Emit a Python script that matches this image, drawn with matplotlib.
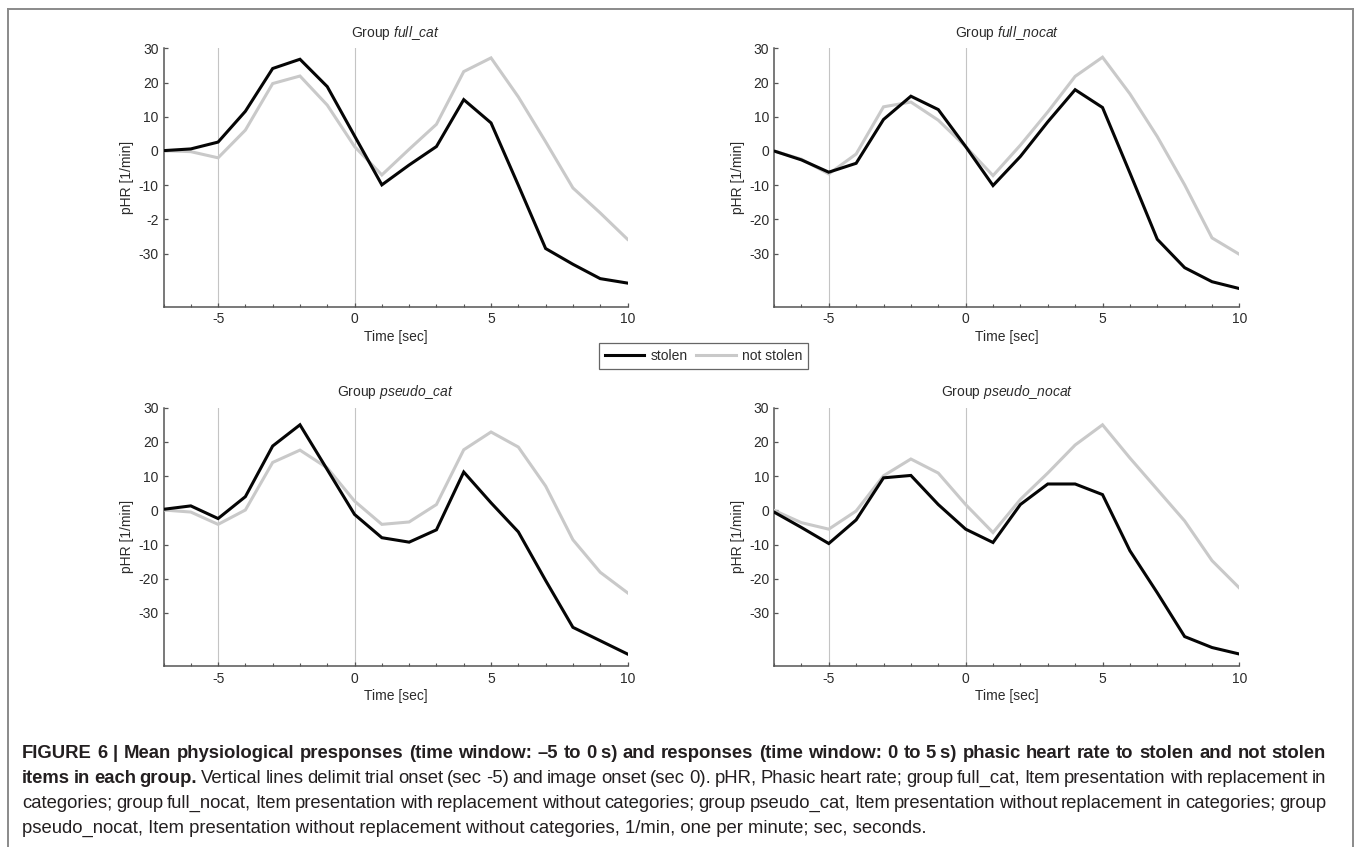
import numpy as np
import matplotlib
matplotlib.use("Agg")
import matplotlib.pyplot as plt
from matplotlib.lines import Line2D
from matplotlib.ticker import MultipleLocator, FixedLocator

plt.rcParams['font.family'] = ['Liberation Sans', 'DejaVu Sans']
plt.rcParams['mathtext.fontset'] = 'custom'
plt.rcParams['mathtext.rm'] = 'Liberation Sans'
plt.rcParams['mathtext.it'] = 'Liberation Sans:italic'

# ---------------- data ----------------
time_sec = [-7, -6, -5, -4, -3, -2, -1, 0, 1, 2, 3, 4, 5, 6, 7, 8, 9, 10]

full_cat_stolen = [0.1, 0.6, 2.6, 11.6, 24.1, 26.8, 18.8, 4.4, -9.9, -4.1, 1.3, 15.0, 8.2, -10.0, -28.5, -33.1, -37.3, -38.6]
full_cat_not = [0.1, -0.2, -2.0, 6.1, 19.7, 21.9, 13.4, 1.3, -7.0, 0.5, 7.8, 23.2, 27.2, 15.8, 2.7, -10.8, -18.1, -25.8]

full_nocat_stolen = [0.0, -2.6, -6.2, -3.6, 9.2, 16.0, 12.1, 1.3, -10.1, -1.6, 8.5, 17.9, 12.7, -6.4, -25.8, -34.1, -38.2, -40.2]
full_nocat_not = [0.0, -2.4, -6.7, -0.9, 12.9, 14.3, 9.0, 1.3, -7.2, 1.7, 11.4, 21.8, 27.4, 16.7, 4.2, -9.9, -25.4, -30.2]

pseudo_cat_stolen = [0.3, 1.3, -2.4, 4.0, 18.8, 25.0, 11.9, -1.2, -8.0, -9.3, -5.7, 11.2, 2.2, -6.3, -20.5, -34.2, -38.1, -42.0]
pseudo_cat_not = [0.1, -0.5, -4.1, 0.1, 14.0, 17.6, 12.4, 2.7, -4.1, -3.4, 1.7, 17.7, 22.9, 18.5, 7.1, -8.6, -18.1, -24.1]

pseudo_nocat_stolen = [-0.5, -5.0, -9.7, -2.8, 9.5, 10.2, 1.7, -5.5, -9.4, 1.7, 7.7, 7.7, 4.6, -11.8, -24.1, -36.9, -40.1, -42.0]
pseudo_nocat_not = [0.0, -3.6, -5.5, -0.2, 10.1, 15.0, 10.9, 1.7, -6.5, 3.2, 10.9, 19.1, 25.0, 15.3, 6.1, -3.1, -14.7, -22.7]

group_names = ['full_cat', 'full_nocat', 'pseudo_cat', 'pseudo_nocat']
series_labels = ['stolen', 'not stolen']
x_ticks = [-5, 0, 5, 10]
x_ticklabels = ['-5', '0', '5', '10']
y_ticks = [-30, -20, -10, 0, 10, 20, 30]
y_ticklabels_first = ['-30', '-2', '-10', '0', '10', '20', '30']
y_ticklabels = ['-30', '-20', '-10', '0', '10', '20', '30']
onset_lines = [-5, 0]

caption_lines = [
    [("FIGURE 6 | Mean physiological presponses (time window: \u20135 to 0\u2009s) and responses "
      "(time window: 0 to 5\u2009s) phasic heart rate to stolen and not stolen", 'bold')],
    [("items in each group.", 'bold'),
     ("Vertical lines delimit trial onset (sec -5) and image onset (sec 0). pHR, Phasic heart rate; "
      "group full_cat, Item presentation with replacement in", 'normal')],
    [("categories; group full_nocat, Item presentation with replacement without categories; group "
      "pseudo_cat, Item presentation without replacement in categories; group", 'normal')],
    [("pseudo_nocat, Item presentation without replacement without categories, 1/min, one per minute; "
      "sec, seconds.", 'normal')],
]

# ---------------- layout ----------------
W, H = 1358, 847
fig = plt.figure(figsize=(W / 100, H / 100), dpi=100)
fig.patch.set_facecolor('white')


def rect(l, r, t, b):
    return [l / W, 1 - b / H, (r - l) / W, (b - t) / H]


boxes = [(163.5, 627.5, 48.3, 306.7), (774.0, 1239.4, 48.3, 306.7),
         (163.5, 627.5, 407.7, 666.0), (774.0, 1239.4, 407.7, 666.0)]
stolen_data = [full_cat_stolen, full_nocat_stolen, pseudo_cat_stolen, pseudo_nocat_stolen]
not_data = [full_cat_not, full_nocat_not, pseudo_cat_not, pseudo_nocat_not]

AX_COL = '#555555'
TXT_COL = '#2b2b2b'
BLACK = '#050505'
GREY = '#c9c9c9'

handles = None
for i, (bx, name) in enumerate(zip(boxes, group_names)):
    ax = fig.add_axes(rect(*bx))
    for xv in onset_lines:
        ax.axvline(xv, color='#c4c4c4', lw=0.8, zorder=1)
    h1, = ax.plot(time_sec, stolen_data[i], color=BLACK, lw=2.2, zorder=4,
                  solid_joinstyle='miter', label=series_labels[0])
    h2, = ax.plot(time_sec, not_data[i], color=GREY, lw=2.2, zorder=3,
                  solid_joinstyle='miter', label=series_labels[1])
    if handles is None:
        handles = [h1, h2]
    ax.set_xlim(-7, 10)
    ax.set_ylim(-45.5, 30)
    for s in ['top', 'right']:
        ax.spines[s].set_visible(False)
    for s in ['left', 'bottom']:
        ax.spines[s].set_color(AX_COL)
        ax.spines[s].set_linewidth(1.1)
    ax.xaxis.set_major_locator(FixedLocator(x_ticks))
    ax.set_xticklabels(x_ticklabels)
    ax.xaxis.set_minor_locator(MultipleLocator(1))
    ax.yaxis.set_major_locator(FixedLocator(y_ticks))
    ax.set_yticklabels(y_ticklabels_first if i == 0 else y_ticklabels)
    ax.tick_params(axis='both', which='major', direction='in', length=3, width=0.9,
                   color=AX_COL, labelsize=10, labelcolor=TXT_COL)
    ax.tick_params(axis='x', which='major', pad=4)
    ax.tick_params(axis='y', which='major', pad=3.5)
    ax.tick_params(axis='x', which='minor', direction='in', length=2.2, width=0.8, color=AX_COL)
    ax.set_facecolor('white')
    hpx = bx[3] - bx[2]
    wpx = bx[1] - bx[0]
    ax.set_xlabel('Time [sec]', fontsize=10, color=TXT_COL)
    ax.xaxis.set_label_coords(0.5, -30.3 / hpx)
    ax.xaxis.label.set_verticalalignment('center')
    ax.set_ylabel('pHR [1/min]', fontsize=10, color=TXT_COL)
    ax.yaxis.set_label_coords(-36.0 / wpx, 0.5)
    ax.yaxis.label.set_verticalalignment('center')
    ax.text(0.5, 1 + 15.5 / hpx, 'Group $\\it{' + name.replace('_', '\\_') + '}$',
            transform=ax.transAxes, ha='center', va='center', fontsize=10, color=TXT_COL)

leg = fig.legend(handles, series_labels, loc='center',
                 bbox_to_anchor=(703.5 / W, 1 - 356 / H), ncol=2, fontsize=10,
                 frameon=True, fancybox=False, shadow=False, framealpha=1,
                 edgecolor='#666666', handlelength=2.85, handletextpad=0.45,
                 columnspacing=0.6, borderpad=0.42, borderaxespad=0)
leg.get_frame().set_linewidth(0.9)
for t in leg.get_texts():
    t.set_color(TXT_COL)
for lh in leg.get_lines():
    lh.set_linewidth(2.2)

# outer border
bc = '#8a8a8a'
fig.add_artist(Line2D([8 / W, 8 / W], [0, 1 - 9 / H], transform=fig.transFigure, color=bc, lw=1.4))
fig.add_artist(Line2D([8 / W, 1353 / W], [1 - 9 / H, 1 - 9 / H], transform=fig.transFigure, color=bc, lw=1.4))
fig.add_artist(Line2D([1353 / W, 1353 / W], [0, 1 - 9 / H], transform=fig.transFigure, color=bc, lw=1.4))

# caption with justified lines
renderer = fig.canvas.get_renderer()
CAP_L, CAP_R = 22, 1326
cap_y = [751, 776, 801, 826]
CAP_COL = '#231f20'


def measure(word, weight, size):
    t = fig.text(0, 0, word, fontsize=size, fontweight=weight)
    w = t.get_window_extent(renderer).width
    t.remove()
    return w


probe = 10.0
first_w = measure(caption_lines[0][0][0], 'bold', probe)
cap_size = probe * (CAP_R - CAP_L - 4) / first_w

for li, (segs, yc) in enumerate(zip(caption_lines, cap_y)):
    if li == 3:
        fig.text(CAP_L / W, 1 - yc / H, segs[0][0], fontsize=cap_size, fontweight=segs[0][1],
                 ha='left', va='center_baseline', color=CAP_COL)
        continue
    words = []
    for txt, wt in segs:
        for wd in txt.split(' '):
            words.append((wd, wt))
    widths = [measure(wd, wt, cap_size) for wd, wt in words]
    gap = (CAP_R - CAP_L - sum(widths)) / (len(words) - 1)
    x = CAP_L
    for (wd, wt), w in zip(words, widths):
        fig.text(x / W, 1 - yc / H, wd, fontsize=cap_size, fontweight=wt,
                 ha='left', va='center_baseline', color=CAP_COL)
        x += w + gap

fig.savefig('out.png', dpi=100, facecolor='white')
